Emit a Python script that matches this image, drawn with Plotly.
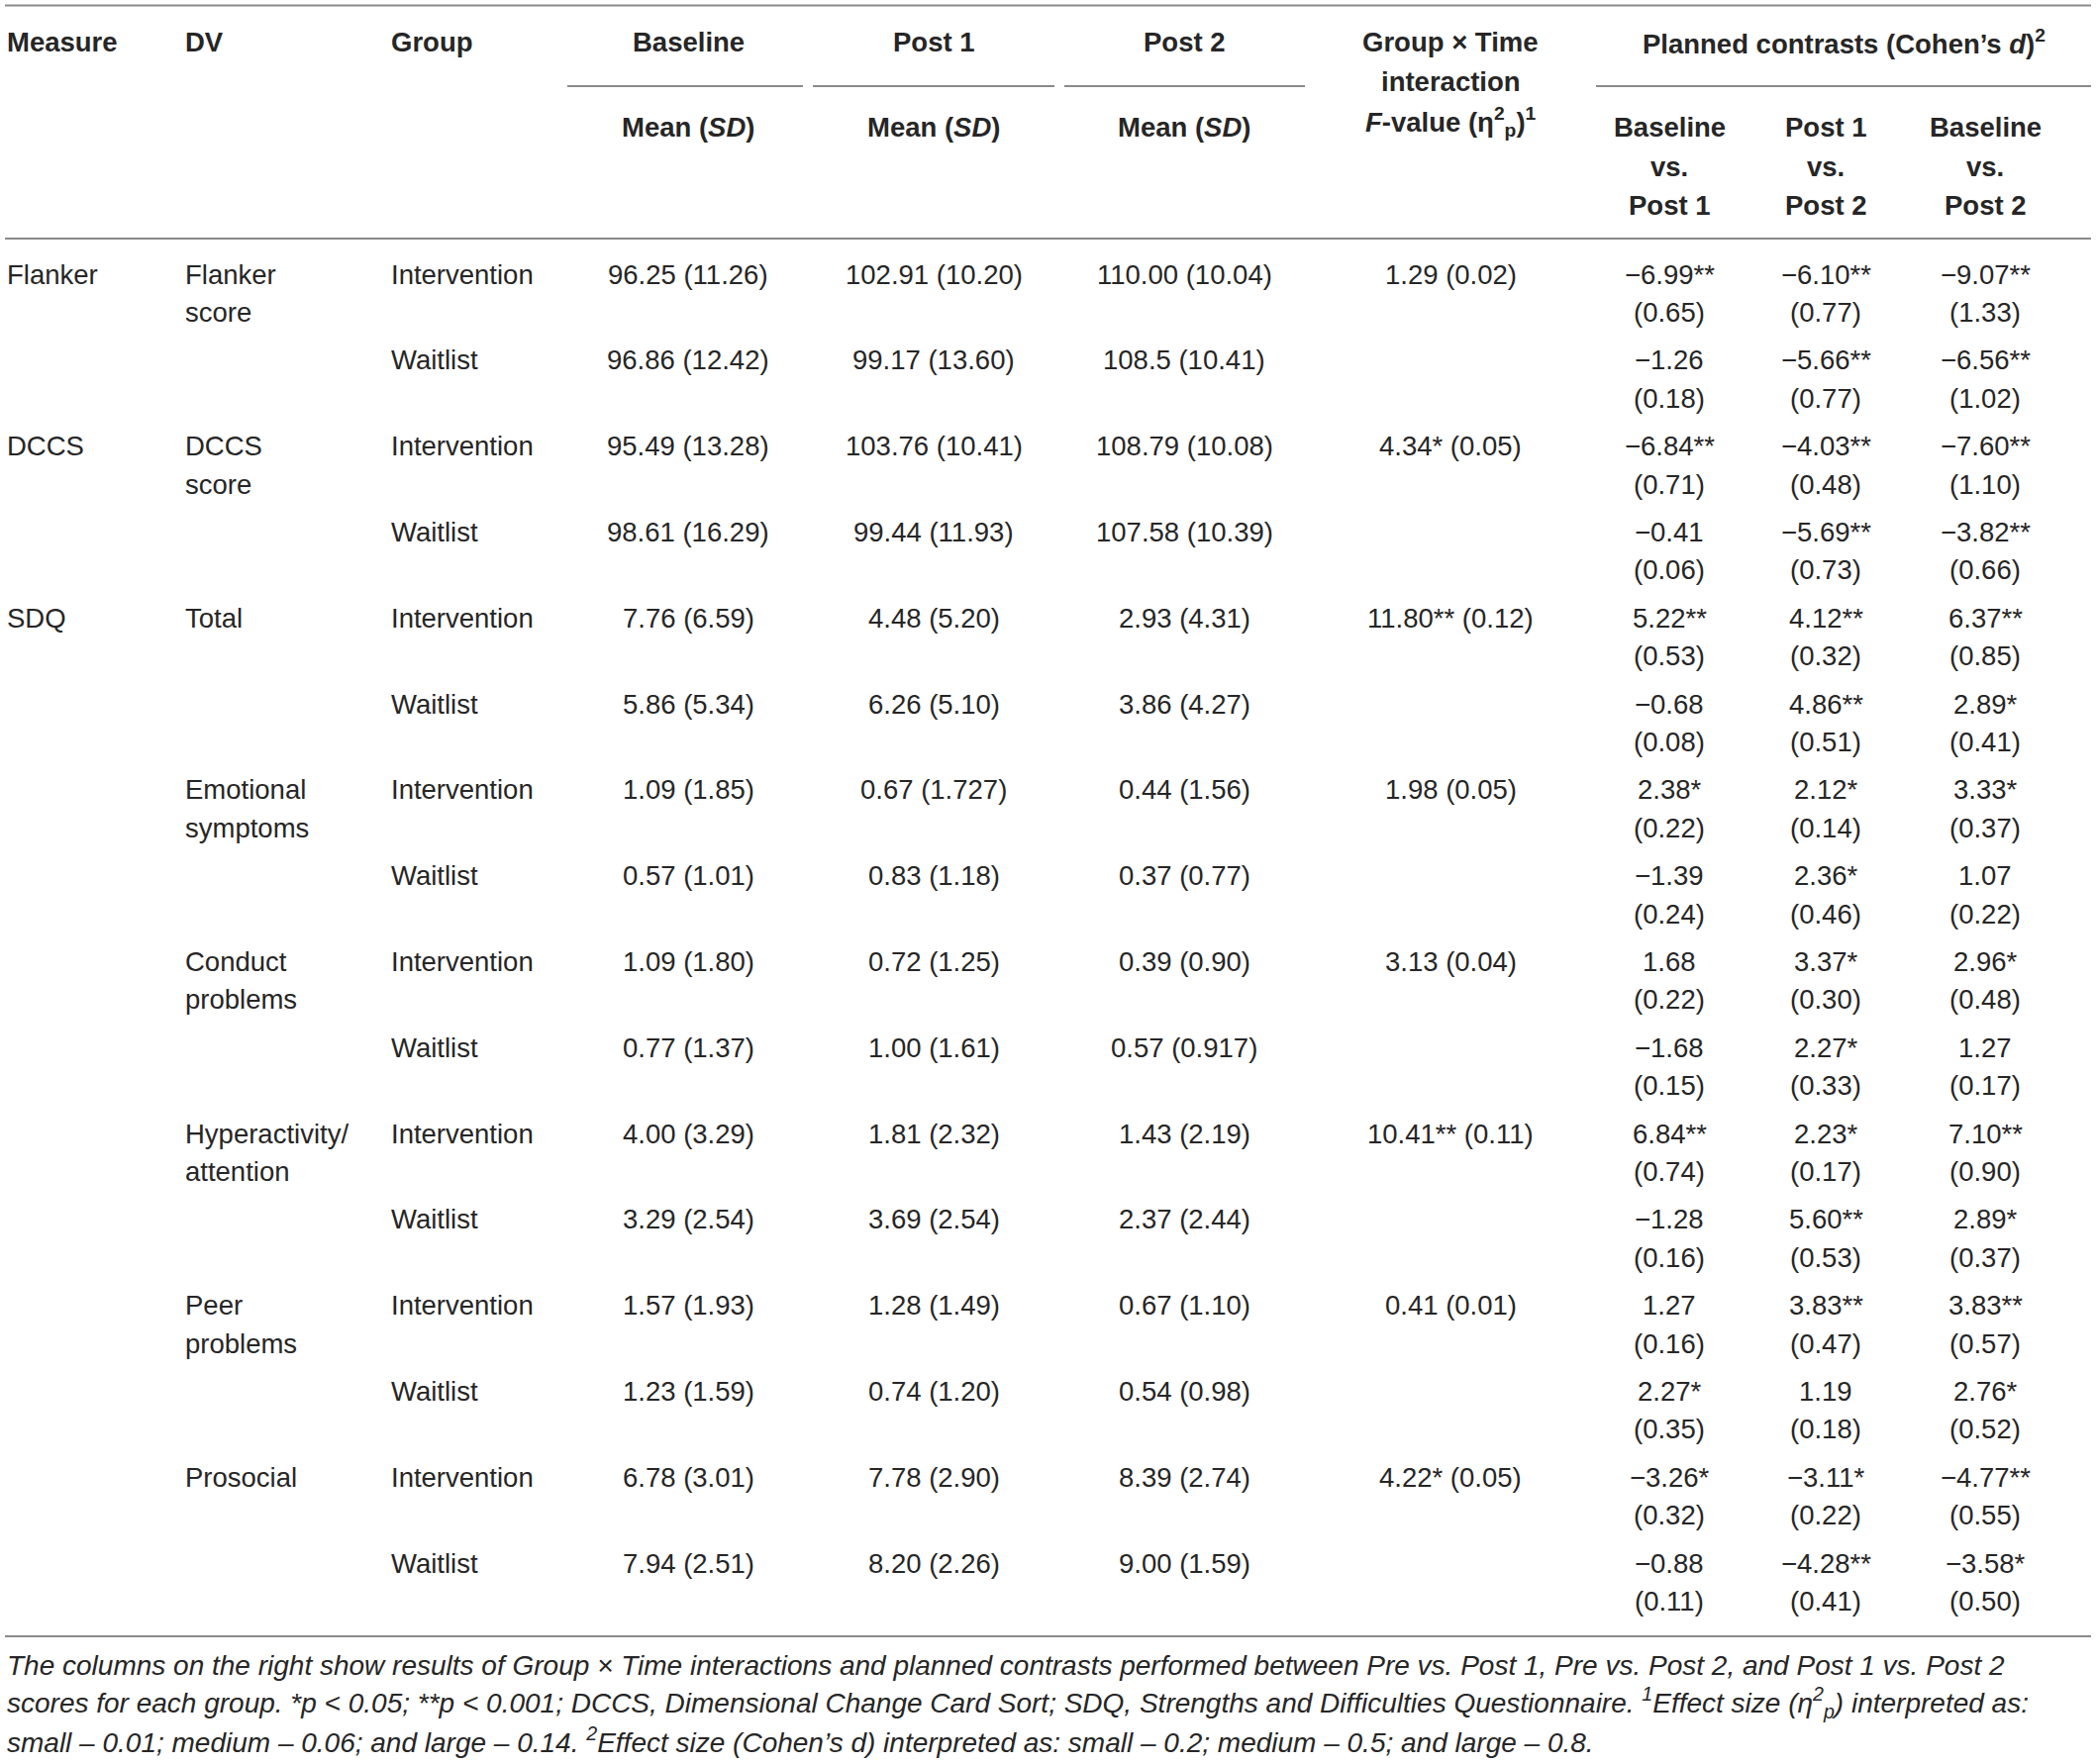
import plotly.graph_objects as go

# ---- table content ----
measures = ["Flanker", "", "DCCS", "", "SDQ", "", "", "", "", "", "", "", "", "", "", ""]
dv_line1 = ["Flanker", "", "DCCS", "", "Total", "", "Emotional", "", "Conduct", "",
            "Hyperactivity/", "", "Peer", "", "Prosocial", ""]
dv_line2 = ["score", "", "score", "", "", "", "symptoms", "", "problems", "",
            "attention", "", "problems", "", "", ""]
groups = ["Intervention", "Waitlist"] * 8

baseline = ["96.25 (11.26)", "96.86 (12.42)", "95.49 (13.28)", "98.61 (16.29)",
            "7.76 (6.59)", "5.86 (5.34)", "1.09 (1.85)", "0.57 (1.01)",
            "1.09 (1.80)", "0.77 (1.37)", "4.00 (3.29)", "3.29 (2.54)",
            "1.57 (1.93)", "1.23 (1.59)", "6.78 (3.01)", "7.94 (2.51)"]
post1 = ["102.91 (10.20)", "99.17 (13.60)", "103.76 (10.41)", "99.44 (11.93)",
         "4.48 (5.20)", "6.26 (5.10)", "0.67 (1.727)", "0.83 (1.18)",
         "0.72 (1.25)", "1.00 (1.61)", "1.81 (2.32)", "3.69 (2.54)",
         "1.28 (1.49)", "0.74 (1.20)", "7.78 (2.90)", "8.20 (2.26)"]
post2 = ["110.00 (10.04)", "108.5 (10.41)", "108.79 (10.08)", "107.58 (10.39)",
         "2.93 (4.31)", "3.86 (4.27)", "0.44 (1.56)", "0.37 (0.77)",
         "0.39 (0.90)", "0.57 (0.917)", "1.43 (2.19)", "2.37 (2.44)",
         "0.67 (1.10)", "0.54 (0.98)", "8.39 (2.74)", "9.00 (1.59)"]
interaction = ["1.29 (0.02)", "", "4.34* (0.05)", "", "11.80** (0.12)", "",
               "1.98 (0.05)", "", "3.13 (0.04)", "", "10.41** (0.11)", "",
               "0.41 (0.01)", "", "4.22* (0.05)", ""]

# planned contrasts: statistic and Cohen's d
base_post1 = ["−6.99**", "−1.26", "−6.84**", "−0.41", "5.22**", "−0.68", "2.38*", "−1.39",
              "1.68", "−1.68", "6.84**", "−1.28", "1.27", "2.27*", "−3.26*", "−0.88"]
base_post1_d = ["0.65", "0.18", "0.71", "0.06", "0.53", "0.08", "0.22", "0.24",
                "0.22", "0.15", "0.74", "0.16", "0.16", "0.35", "0.32", "0.11"]
post1_post2 = ["−6.10**", "−5.66**", "−4.03**", "−5.69**", "4.12**", "4.86**", "2.12*", "2.36*",
               "3.37*", "2.27*", "2.23*", "5.60**", "3.83**", "1.19", "−3.11*", "−4.28**"]
post1_post2_d = ["0.77", "0.77", "0.48", "0.73", "0.32", "0.51", "0.14", "0.46",
                 "0.30", "0.33", "0.17", "0.53", "0.47", "0.18", "0.22", "0.41"]
base_post2 = ["−9.07**", "−6.56**", "−7.60**", "−3.82**", "6.37**", "2.89*", "3.33*", "1.07",
              "2.96*", "1.27", "7.10**", "2.89*", "3.83**", "2.76*", "−4.77**", "−3.58*"]
base_post2_d = ["1.33", "1.02", "1.10", "0.66", "0.85", "0.41", "0.37", "0.22",
                "0.48", "0.17", "0.90", "0.37", "0.57", "0.52", "0.55", "0.50"]

time_headers = ["Baseline", "Post 1", "Post 2"]
contrast_headers = [("Baseline", "Post 1"), ("Post 1", "Post 2"), ("Baseline", "Post 2")]

footnote = [
    "The columns on the right show results of Group × Time interactions and planned contrasts "
    "performed between Pre vs. Post 1, Pre vs. Post 2, and Post 1 vs. Post 2",
    "scores for each group. *p &lt; 0.05; **p &lt; 0.001; DCCS, Dimensional Change Card Sort; "
    "SDQ, Strengths and Difficulties Questionnaire. <sup>1</sup>Effect size "
    "(η<sup>2</sup><sub>p</sub>) interpreted as:",
    "small – 0.01; medium – 0.06; and large – 0.14. <sup>2</sup>Effect size (Cohen’s d) "
    "interpreted as: small – 0.2; medium – 0.5; and large – 0.8.",
]

# ---- layout constants (pixels) ----
W, H = 2117, 1782
FONT = "Liberation Sans, Arial, sans-serif"
INK = "#262626"
RULE = "#8a8a8a"
FS = 27.5

x_measure, x_dv, x_group = 5, 185, 393
x_time = [695, 943, 1196]
x_inter = 1465
x_contr = [1686, 1844, 2005]

row0, row_step, line2 = 277, 86.8, 38.5

fig = go.Figure()
ann = []


def txt(x, y, s, anchor="center", size=FS, bold=False):
    if bold:
        s = "<b>" + s + "</b>"
    ann.append(dict(x=x, y=y, xref="x", yref="y", text=s, showarrow=False,
                    xanchor=anchor, yanchor="middle",
                    font=dict(family=FONT, size=size, color=INK)))


# header
txt(x_measure, 42, "Measure", "left", bold=True)
txt(x_dv, 42, "DV", "left", bold=True)
txt(x_group, 42, "Group", "left", bold=True)
for xc, h in zip(x_time, time_headers):
    txt(xc, 42, h, bold=True)
    txt(xc, 128, "Mean (<i>SD</i>)", bold=True)
txt(x_inter, 42, "Group × Time", bold=True)
txt(x_inter, 82, "interaction", bold=True)
txt(x_inter, 123, "<i>F</i>-value (η<sup>2</sup><sub>p</sub>)<sup>1</sup>", bold=True)
txt(1862, 42, "Planned contrasts (Cohen’s <i>d</i>)<sup>2</sup>", bold=True)
for xc, (a, b) in zip(x_contr, contrast_headers):
    txt(xc, 128, a, bold=True)
    txt(xc, 168, "vs.", bold=True)
    txt(xc, 207, b, bold=True)

# body
contr = [(base_post1, base_post1_d), (post1_post2, post1_post2_d), (base_post2, base_post2_d)]
for i in range(len(groups)):
    y = row0 + i * row_step
    if measures[i]:
        txt(x_measure, y, measures[i], "left")
    if dv_line1[i]:
        txt(x_dv, y, dv_line1[i], "left")
    if dv_line2[i]:
        txt(x_dv, y + line2, dv_line2[i], "left")
    txt(x_group, y, groups[i], "left")
    for xc, col in zip(x_time, [baseline, post1, post2]):
        txt(xc, y, col[i])
    if interaction[i]:
        txt(x_inter, y, interaction[i])
    for xc, (stat, d) in zip(x_contr, contr):
        txt(xc, y, stat[i])
        txt(xc, y + line2, "(" + d[i] + ")")

# footnote
for k, line in enumerate(footnote):
    txt(5, 1682 + k * 38, "<i>" + line + "</i>", "left", size=28)

# rules
shapes = []
for y, x0, x1 in [(5.5, 5, 2112), (241, 5, 2112), (1653, 5, 2112),
                  (87, 573, 811), (87, 821, 1065), (87, 1075, 1318), (87, 1612, 2112)]:
    shapes.append(dict(type="line", xref="x", yref="y", x0=x0, x1=x1, y0=y, y1=y,
                       line=dict(color=RULE, width=2)))

fig.update_layout(
    width=W, height=H,
    margin=dict(l=0, r=0, t=0, b=0),
    paper_bgcolor="white", plot_bgcolor="white",
    xaxis=dict(range=[0, W], visible=False, fixedrange=True),
    yaxis=dict(range=[H, 0], visible=False, fixedrange=True),
    annotations=ann, shapes=shapes, showlegend=False,
)

fig.write_html("out.html", config={"displayModeBar": False},
               post_script="document.body.style.margin='0px';")
